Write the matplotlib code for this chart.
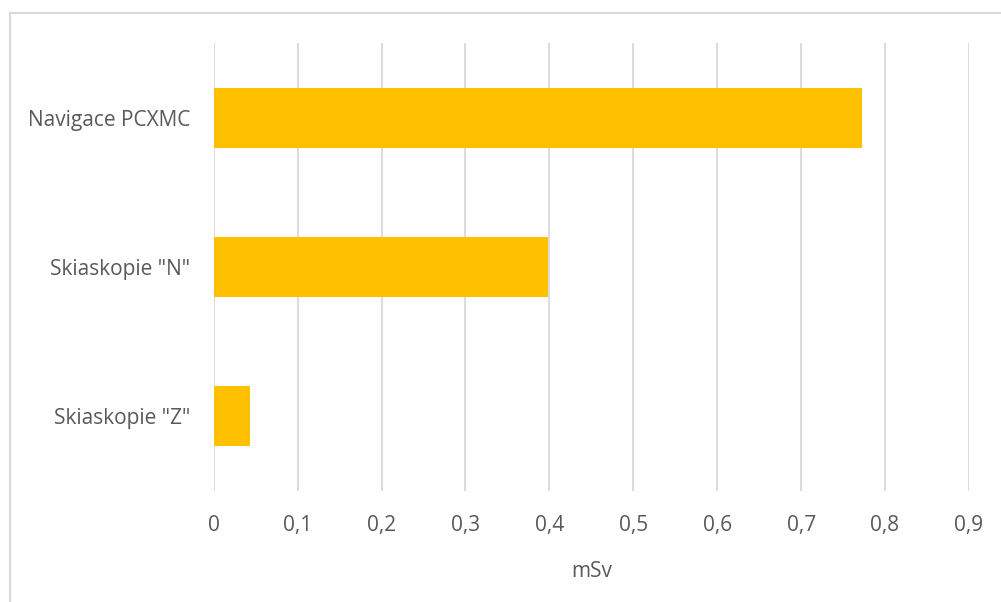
import matplotlib.pyplot as plt
from matplotlib.patches import Rectangle

# --- datos ---
categorias = ['Navigace PCXMC', 'Skiaskopie "N"', 'Skiaskopie "Z"']
valores = [0.772, 0.398, 0.043]
ticks_x = [0, 0.1, 0.2, 0.3, 0.4, 0.5, 0.6, 0.7, 0.8, 0.9]
etiquetas_x = ['0', '0,1', '0,2', '0,3', '0,4', '0,5', '0,6', '0,7', '0,8', '0,9']

plt.rcParams['font.family'] = ['Open Sans', 'DejaVu Sans']
gris_texto = '#595959'
gris_linea = '#d9d9d9'

fig = plt.figure(figsize=(10.01, 6.02), dpi=100)
ax = fig.add_axes([0.2135, 0.1844, 0.7545, 0.7442])

y = list(range(len(categorias)))
ax.barh(y, valores, height=0.4, color='#ffc000', zorder=3)
ax.set_ylim(len(categorias) - 0.5, -0.5)
ax.set_yticks(y)
ax.set_yticklabels(categorias)
ax.set_xlim(0, 0.9)
ax.set_xticks(ticks_x)
ax.set_xticklabels(etiquetas_x)

ax.grid(axis='x', color=gris_linea, linewidth=1.3, zorder=0)
for s in ax.spines.values():
    s.set_visible(False)
ax.tick_params(axis='both', length=0, labelsize=15, colors=gris_texto)
ax.tick_params(axis='x', pad=17)
ax.tick_params(axis='y', pad=17)
ax.set_xlabel('mSv', fontsize=15, color=gris_texto, labelpad=18)

# marco del gráfico (recortado por la derecha y abajo)
fig.patches.append(Rectangle((10 / 1001, -0.05), 1.1, 1 - 13 / 602 + 0.05,
                             transform=fig.transFigure, fill=False,
                             edgecolor=gris_linea, linewidth=1.5))

plt.savefig('out.png', dpi=100)
